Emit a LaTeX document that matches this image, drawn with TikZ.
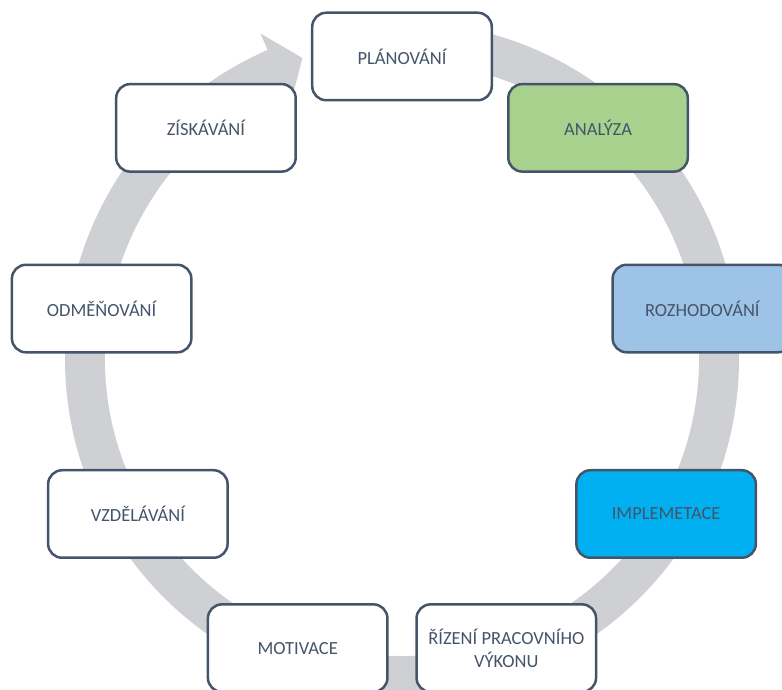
\documentclass[tikz,border=0pt]{standalone}
\usepackage{fontspec}
\setmainfont{Carlito}
\definecolor{ringgray}{RGB}{207,208,212}
\definecolor{boxline}{RGB}{68,84,106}
\definecolor{boxtext}{RGB}{68,84,106}
\definecolor{stepgreen}{RGB}{169,209,142}
\definecolor{stepblue}{RGB}{157,195,230}
\definecolor{stepcyan}{RGB}{0,176,240}
\begin{document}
\begin{tikzpicture}[x=1pt,y=1pt,
  stepbox/.style={draw=boxline, line width=2.5pt, fill=white, rounded corners=14pt,
    minimum width=179.5pt, minimum height=87.5pt, align=center,
    text=boxtext, font=\fontsize{18.5}{22.5}\selectfont, inner sep=2pt},
  ringarrow/.style={fill=ringgray, draw=none}]
\useasboundingbox (-402,-331) rectangle (380,359);
% circular arrow running clockwise behind the steps
\path[ringarrow] (90:337pt) arc[start angle=90, end angle=-246.5, radius=337pt]
  -- (-246.5:355pt) -- (-251.7:317pt) -- (-246.5:279pt) -- (-246.5:297pt)
  arc[start angle=-246.5, end angle=90, radius=297pt] -- cycle;
% the nine steps of the cycle
\begin{scope}[shift={(0,-2.5)}]
\node[stepbox] (plan) at (90:305pt) {PLÁNOVÁNÍ};
\node[stepbox, fill=stepgreen] (anal) at (50:305pt) {ANALÝZA};
\node[stepbox, fill=stepblue] (rozh) at (10:305pt) {ROZHODOVÁNÍ};
\node[stepbox, fill=stepcyan] (impl) at (-30:305pt) {IMPLEMETACE};
\node[stepbox] (rize) at (-70:305pt) {ŘÍZENÍ PRACOVNÍHO\\VÝKONU};
\node[stepbox] (moti) at (-110:305pt) {MOTIVACE};
\node[stepbox] (vzde) at (-150:305pt) {VZDĚLÁVÁNÍ};
\node[stepbox] (odme) at (170:305pt) {ODMĚŇOVÁNÍ};
\node[stepbox] (zisk) at (130:305pt) {ZÍSKÁVÁNÍ};
\end{scope}
\end{tikzpicture}
\end{document}
